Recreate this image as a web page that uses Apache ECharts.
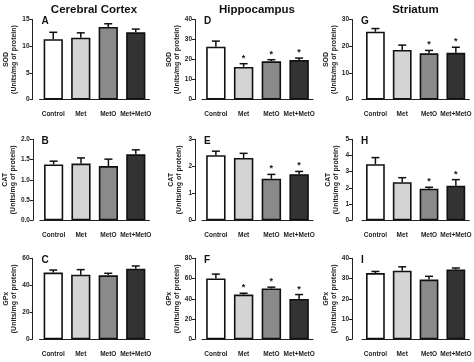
<!DOCTYPE html>
<html><head><meta charset="utf-8">
<script src="https://cdn.jsdelivr.net/npm/echarts@6/dist/echarts.min.js"></script>
<style>html,body{margin:0;padding:0;background:#fff}#c{width:474px;height:362px}</style>
</head><body><div id="c"></div>
<script>
const categories = ['Control', 'Met', 'MetO', 'Met+MetO'];
const colTitles = ['Cerebral Cortex', 'Hippocampus', 'Striatum'];
const rowNames = ['SOD', 'CAT', 'GPx'];
const unitName = '(Units/mg of protein)';
const panelLetters = ['A', 'B', 'C', 'D', 'E', 'F', 'G', 'H', 'I'];

// means, SEM, significance (*) per panel
const sodCortexMean = [11.3, 11.6, 13.6, 12.6];
const sodCortexErr = [1.3, 0.9, 0.6, 0.6];
const sodCortexSig = [0, 0, 0, 0];
const catCortexMean = [1.38, 1.40, 1.34, 1.63];
const catCortexErr = [0.08, 0.14, 0.17, 0.11];
const catCortexSig = [0, 0, 0, 0];
const gpxCortexMean = [49.4, 47.9, 47.4, 52.3];
const gpxCortexErr = [1.9, 3.7, 1.5, 2.0];
const gpxCortexSig = [0, 0, 0, 0];

const sodHippoMean = [26.4, 16.3, 19.1, 19.7];
const sodHippoErr = [2.8, 1.6, 0.8, 1.0];
const sodHippoSig = [0, 1, 1, 1];
const catHippoMean = [2.41, 2.31, 1.54, 1.71];
const catHippoErr = [0.15, 0.17, 0.16, 0.10];
const catHippoSig = [0, 0, 1, 1];
const gpxHippoMean = [60.1, 44.2, 50.2, 39.9];
const gpxHippoErr = [4.3, 1.3, 1.3, 4.3];
const gpxHippoSig = [0, 1, 1, 1];

const sodStriMean = [25.4, 18.6, 17.3, 17.5];
const sodStriErr = [1.2, 1.8, 1.1, 2.1];
const sodStriSig = [0, 0, 1, 1];
const catStriMean = [3.46, 2.35, 1.95, 2.14];
const catStriErr = [0.41, 0.28, 0.09, 0.37];
const catStriSig = [0, 0, 1, 1];
const gpxStriMean = [32.7, 33.9, 29.5, 34.5];
const gpxStriErr = [0.8, 1.9, 1.6, 0.7];
const gpxStriSig = [0, 0, 0, 0];

// axis ranges
const yMax = [[15, 2.0, 60], [40, 3, 80], [30, 5, 40]];
const yInterval = [[5, 0.5, 20], [10, 1, 20], [10, 1, 10]];
const yDecimals = [[0, 1, 0], [0, 0, 0], [0, 0, 0]];

const panels = [
  [[sodCortexMean, sodCortexErr, sodCortexSig], [catCortexMean, catCortexErr, catCortexSig], [gpxCortexMean, gpxCortexErr, gpxCortexSig]],
  [[sodHippoMean, sodHippoErr, sodHippoSig], [catHippoMean, catHippoErr, catHippoSig], [gpxHippoMean, gpxHippoErr, gpxHippoSig]],
  [[sodStriMean, sodStriErr, sodStriSig], [catStriMean, catStriErr, catStriSig], [gpxStriMean, gpxStriErr, gpxStriSig]]
];
const barColors = ['#ffffff', '#d4d4d4', '#8a8a8a', '#333333'];

// layout
const colLeft = [39.5, 202, 362];
const colWidth = [110, 111, 111];
const yAxisOffset = [7, 7, 10];
const rowTop = [19.5, 139.3, 258.3];
const rowHeight = [80, 81, 81];

const FONT = '"Liberation Sans", Arial, sans-serif';
const grids = [], xAxes = [], yAxes = [], series = [], titles = [];
let idx = 0;
for (let c = 0; c < 3; c++) {
  titles.push({
    text: colTitles[c], left: colLeft[c] + colWidth[c] / 2 - yAxisOffset[c] / 2 - 2, top: -1, textAlign: 'center',
    textStyle: { fontFamily: FONT, fontSize: 11.5, fontWeight: 'bold', color: '#111' }
  });
  for (let r = 0; r < 3; r++) {
    const [mean, err, sig] = panels[c][r];
    grids.push({ left: colLeft[c], top: rowTop[r], width: colWidth[c], height: rowHeight[r] });
    xAxes.push({
      type: 'category', gridIndex: idx, data: categories, offset: 8,
      axisLine: { lineStyle: { color: '#222', width: 1 } },
      axisTick: { show: true, inside: true, length: 3, alignWithLabel: true, lineStyle: { color: '#222' } },
      axisLabel: { fontFamily: FONT, fontSize: 6.5, fontWeight: 'bold', color: '#222', margin: 3, interval: 0 }
    });
    const dec = yDecimals[c][r];
    yAxes.push({
      type: 'value', gridIndex: idx, min: 0, max: yMax[c][r], interval: yInterval[c][r], offset: yAxisOffset[c],
      name: rowNames[r] + '\n' + unitName, nameLocation: 'middle', nameRotate: 90, nameGap: 12,
      nameTextStyle: { fontFamily: FONT, fontSize: 7, fontWeight: 'bold', color: '#222', lineHeight: 8 },
      splitLine: { show: false },
      axisLine: { show: true, lineStyle: { color: '#222', width: 1 } },
      axisTick: { show: true, length: 3, lineStyle: { color: '#222' } },
      axisLabel: { fontFamily: FONT, fontSize: 6.5, fontWeight: 'bold', color: '#222', margin: 3,
        formatter: v => v.toFixed(dec) }
    });
    titles.push({
      text: panelLetters[c * 3 + r], left: colLeft[c] - yAxisOffset[c] + 4, top: rowTop[r] - 8,
      textStyle: { fontFamily: FONT, fontSize: 10, fontWeight: 'bold', color: '#111' }
    });
    series.push({
      type: 'bar', xAxisIndex: idx, yAxisIndex: idx, barWidth: '70%', silent: true,
      data: mean.map((v, i) => ({ value: v, itemStyle: { color: barColors[i], borderColor: '#111', borderWidth: 1.6 } })),
      z: 2
    });
    series.push({
      type: 'custom', xAxisIndex: idx, yAxisIndex: idx, silent: true, z: 3,
      data: mean.map((v, i) => [i, v, v + err[i], sig[i]]),
      renderItem: function (params, api) {
        const p0 = api.coord([api.value(0), api.value(1)]);
        const p1 = api.coord([api.value(0), api.value(2)]);
        const children = [
          { type: 'line', shape: { x1: p0[0], y1: p0[1], x2: p1[0], y2: p1[1] }, style: { stroke: '#111', lineWidth: 1.5 } },
          { type: 'line', shape: { x1: p1[0] - 4, y1: p1[1], x2: p1[0] + 4, y2: p1[1] }, style: { stroke: '#111', lineWidth: 1.5 } }
        ];
        if (api.value(3)) {
          children.push({ type: 'text', style: { text: '*', x: p1[0], y: p1[1] - 1, textAlign: 'center', textVerticalAlign: 'bottom',
            font: 'bold 9px ' + FONT, fill: '#111' } });
        }
        return { type: 'group', children: children };
      }
    });
    idx++;
  }
}

const chart = echarts.init(document.getElementById('c'), null, { renderer: 'canvas' });
chart.setOption({
  animation: false, backgroundColor: '#fff',
  title: titles, grid: grids, xAxis: xAxes, yAxis: yAxes, series: series
});
</script></body></html>
